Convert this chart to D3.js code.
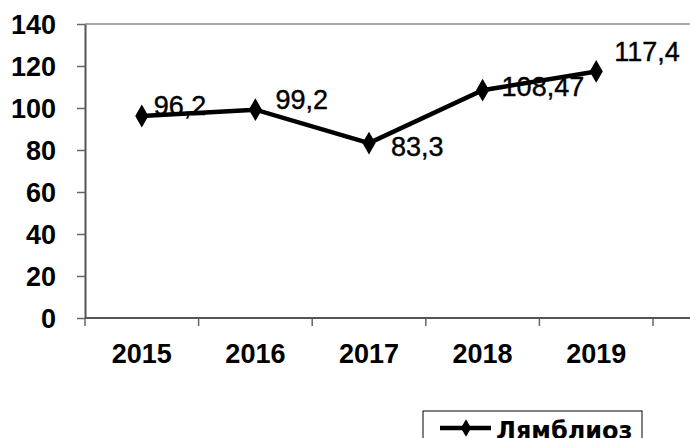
<!DOCTYPE html>
<html>
<head>
<meta charset="utf-8">
<script src="https://cdn.jsdelivr.net/npm/d3@7"></script>
<style>
body { margin: 0; background: #fff; }
svg { display: block; }
</style>
</head>
<body>
<svg id="svg" width="690" height="438"></svg>
<script>
let years = ["2015", "2016", "2017", "2018", "2019"];
let values = [96.2, 99.2, 83.3, 108.47, 117.4];
let valueLabels = ["96,2", "99,2", "83,3", "108,47", "117,4"];
let yTicks = [0, 20, 40, 60, 80, 100, 120, 140];
let seriesName = "Лямблиоз";

// label placement relative to the point (layout only)
let labelShift = [[12, -1], [20, -1], [22, 13], [19, 6], [18, -10]];

let svg = d3.select("#svg");
let padding = {top: 24, left: 85, bottom: 120};
let plotBottom = 438 - padding.bottom; // 318

let xScale = d3.scaleBand()
		.domain(years)
		.range([padding.left, padding.left + 5 * 113.6]);

let yScale = d3.scaleLinear()
		.domain([0, 140])
		.range([plotBottom, padding.top]);

// top border of plot area
svg.append("line")
		.attr("x1", padding.left).attr("x2", 700)
		.attr("y1", yScale(140)).attr("y2", yScale(140))
		.attr("stroke", "#8a8a8a").attr("stroke-width", 1.5);

let yAxis = svg.append("g")
		.attr("transform", "translate(" + padding.left + ",0)")
		.call(d3.axisLeft(yScale).tickValues(yTicks).tickSize(8).tickPadding(21).tickSizeOuter(0));

let xAxis = svg.append("g")
		.attr("transform", "translate(0," + plotBottom + ")")
		.call(d3.axisBottom(xScale).tickSize(0).tickPadding(26).tickSizeOuter(0));

// tick marks between categories
xAxis.selectAll("line.sep")
		.data(years.concat(["end"]))
		.enter()
		.append("line")
		.attr("class", "sep")
		.attr("x1", (d, i) => padding.left + i * xScale.step())
		.attr("x2", (d, i) => padding.left + i * xScale.step())
		.attr("y1", 0).attr("y2", 8)
		.attr("stroke", "#666").attr("stroke-width", 1.5);

xAxis.select(".domain").remove();
xAxis.append("line")
		.attr("x1", padding.left).attr("x2", 700)
		.attr("stroke", "#555").attr("stroke-width", 2);

yAxis.select(".domain").attr("stroke", "#555").attr("stroke-width", 2);
yAxis.selectAll(".tick line").attr("stroke", "#666").attr("stroke-width", 1.5);

svg.selectAll(".tick text")
		.style("font-family", "Liberation Sans, Arial, sans-serif")
		.style("font-size", "27px")
		.style("font-weight", "bold")
		.attr("fill", "#000");

yAxis.selectAll(".tick text").attr("dy", "0.36em");

let line = d3.line()
		.x((d, i) => xScale(years[i]) + xScale.bandwidth() / 2)
		.y(d => yScale(d));

svg.append("path")
		.datum(values)
		.attr("d", line)
		.attr("fill", "none")
		.attr("stroke", "#000")
		.attr("stroke-width", 4.5);

let diamond = d3.symbol().type(d3.symbolDiamond).size(150);

svg.selectAll("path.marker")
		.data(values)
		.enter()
		.append("path")
		.attr("class", "marker")
		.attr("d", diamond)
		.attr("transform", (d, i) => "translate(" + (xScale(years[i]) + xScale.bandwidth() / 2) + "," + yScale(d) + ")")
		.attr("fill", "#000");

svg.selectAll("text.value-label")
		.data(values)
		.enter()
		.append("text")
		.attr("class", "value-label")
		.attr("x", (d, i) => xScale(years[i]) + xScale.bandwidth() / 2 + labelShift[i][0])
		.attr("y", (d, i) => yScale(d) + labelShift[i][1])
		.style("font-family", "Liberation Sans, Arial, sans-serif")
		.style("font-size", "27px")
		.attr("fill", "#000")
		.attr("stroke", "#000")
		.attr("stroke-width", 0.4)
		.text((d, i) => valueLabels[i]);

// legend
let legend = svg.append("g").attr("transform", "translate(423,411)");
legend.append("rect")
		.attr("width", 219).attr("height", 40)
		.attr("fill", "#fff").attr("stroke", "#000").attr("stroke-width", 1);
legend.append("line")
		.attr("x1", 17).attr("x2", 68).attr("y1", 17).attr("y2", 17)
		.attr("stroke", "#000").attr("stroke-width", 4.5);
legend.append("path")
		.attr("d", d3.symbol().type(d3.symbolDiamond).size(90))
		.attr("transform", "translate(43,17)")
		.attr("fill", "#000");
legend.append("text")
		.attr("x", 73).attr("y", 28)
		.style("font-family", "DejaVu Sans, sans-serif")
		.style("font-size", "24px")
		.style("font-weight", "bold")
		.attr("fill", "#000")
		.text(seriesName);
</script>
</body>
</html>
